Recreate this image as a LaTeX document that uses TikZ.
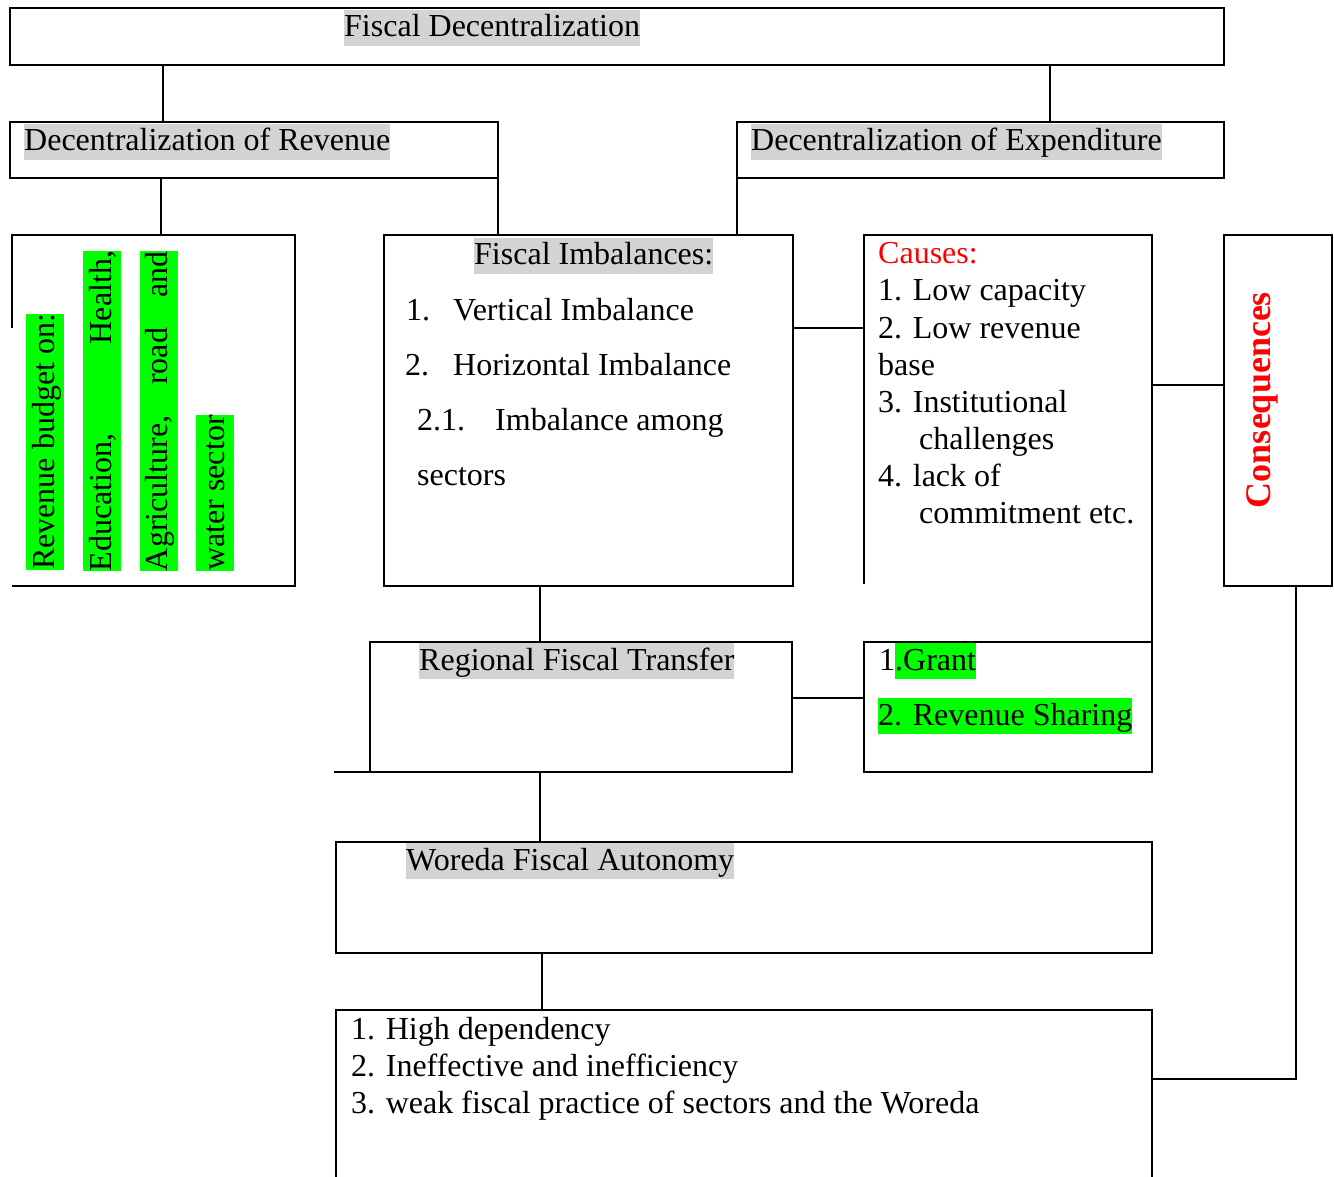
\documentclass[tikz,border=0pt]{standalone}
\usepackage{fontspec}
\setmainfont{Liberation Serif}
\definecolor{hlgray}{RGB}{211,211,211}
\definecolor{hlgreen}{RGB}{0,255,0}
\definecolor{redtxt}{RGB}{255,0,0}
\tikzset{
  box/.style={draw, line width=2.4pt, rectangle, inner sep=0pt, outer sep=0pt, anchor=north west},
  frame/.style={rectangle, inner sep=0pt, outer sep=0pt, anchor=north west},
  boxline/.style={line width=2.4pt},
  conn/.style={line width=2pt},
  plain/.style={inner sep=0pt, anchor=base west},
  hl/.style={inner sep=0pt, anchor=base west, text height=27pt, text depth=9pt},
  colnode/.style={rotate=90, fill=hlgreen, inner sep=0pt, text height=28pt, text depth=10pt, align=left},
  colfree/.style={rotate=90, fill=hlgreen, inner xsep=0pt, inner ysep=0pt, text height=28pt, text depth=10pt, anchor=west},
}
\begin{document}
\begin{tikzpicture}[x=1pt, y=-1pt, font=\fontsize{32pt}{37pt}\selectfont]
\useasboundingbox (0,0) rectangle (1334,1177);

% boxes
\node[box, minimum width=1214pt, minimum height=57pt] (fd) at (10,8) {};
\node[box, minimum width=488pt, minimum height=56pt] (rev) at (10,122) {};
\node[box, minimum width=487pt, minimum height=56pt] (exp) at (737,122) {};
\node[frame, minimum width=283pt, minimum height=351pt] (rb) at (12,235) {};
\node[box, minimum width=409pt, minimum height=351pt] (fi) at (384,235) {};
\node[frame, minimum width=288pt, minimum height=407pt] (cau) at (864,235) {};
\node[box, minimum width=108pt, minimum height=351pt] (con) at (1224,235) {};
\node[box, minimum width=422pt, minimum height=130pt] (rft) at (370,642) {};
\node[box, minimum width=288pt, minimum height=130pt] (grant) at (864,642) {};
\node[box, minimum width=816pt, minimum height=111pt] (wfa) at (336,842) {};
\node[frame, minimum width=816pt, minimum height=175pt] (cq) at (336,1010) {};

% partial borders
\draw[boxline] (rb.north west) ++(0,93) -- (rb.north west) -- (rb.north east) -- (rb.south east) -- (rb.south west);
\draw[boxline] (cau.north west) ++(0,349) -- (cau.north west) -- (cau.north east) -- (cau.south east);
\draw[boxline] (cq.south west) -- (cq.north west) -- (cq.north east) -- (cq.south east);
\coordinate (rftx) at (334,772);
\draw[boxline] (rft.south west) -- (rftx);

% connectors
\draw[conn] (fd.south -| 163,0) -- (rev.north -| 163,0);
\draw[conn] (fd.south -| 1050,0) -- (exp.north -| 1050,0);
\draw[conn] (rev.south -| 161,0) -- (rb.north -| 161,0);
\draw[conn] (rev.south east) -- (fi.north -| rev.east);
\draw[conn] (exp.south west) -- (fi.north -| exp.west);
\draw[conn] (fi.east |- 0,328) -- (cau.west |- 0,328);
\draw[conn] (cau.east |- 0,385) -- (con.west |- 0,385);
\draw[conn] (fi.south -| 540,0) -- (rft.north -| 540,0);
\draw[conn] (rft.east |- 0,698) -- (grant.west |- 0,698);
\draw[conn] (rft.south -| 540,0) -- (wfa.north -| 540,0);
\draw[conn] (wfa.south -| 542,0) -- (cq.north -| 542,0);
\coordinate (bend) at (1296,1079);
\draw[conn] (con.south -| bend) -- (bend) -- (cq.east |- bend);

% texts
\node[hl, fill=hlgray] (tfd) at (344,37) {Fiscal Decentralization};
\node[hl, fill=hlgray] (trev) at (24,151) {Decentralization of Revenue};
\node[hl, fill=hlgray] (texp) at (751,151) {Decentralization of Expenditure};

\node[colfree] (c1) at (45,570) {Revenue budget on:};
\node[colnode, text width=320pt] (c2) at (102,411) {Education,\hfill Health,};
\node[colnode, text width=320pt] (c3) at (158.5,411) {Agriculture,\hfill road\hfill and};
\node[colfree] (c4) at (215,571) {water sector};

\node[hl, fill=hlgray] (tfi) at (474,265) {Fiscal Imbalances:};
\node[plain] (fi1n) at (406,320) {1.};
\node[plain] (fi1) at (453,320) {Vertical Imbalance};
\node[plain] (fi2n) at (405,375) {2.};
\node[plain] (fi2) at (453,375) {Horizontal Imbalance};
\node[plain] (fi3n) at (417,430) {2.1.};
\node[plain] (fi3) at (495,430) {Imbalance among};
\node[plain] (fi4) at (417,485) {sectors};

\node[plain, text=redtxt] (tcau) at (878,264) {Causes:};
\node[plain] (ca1) at (878,301) {1. Low capacity};
\node[plain] (ca2) at (878,338) {2. Low revenue};
\node[plain] (ca3) at (878,375) {base};
\node[plain] (ca4) at (878,412) {3. Institutional};
\node[plain] (ca5) at (919,449) {challenges};
\node[plain] (ca6) at (878,486) {4. lack of};
\node[plain] (ca7) at (919,523) {commitment etc.};

\node[rotate=90, inner sep=0pt, text=redtxt, font=\fontsize{36pt}{40pt}\selectfont\bfseries] (tcon) at (1262,400) {Consequences};

\node[hl, fill=hlgray] (trft) at (419,670) {Regional Fiscal Transfer};
\node[plain] (g1n) at (879,670) {1};
\node[hl, fill=hlgreen] (g1) at (895,670) {.Grant};
\node[hl, fill=hlgreen] (g2) at (878,725) {2. Revenue Sharing};

\node[hl, fill=hlgray] (twfa) at (406,870) {Woreda Fiscal Autonomy};

\node[plain] (q1) at (351,1039) {1. High dependency};
\node[plain] (q2) at (351,1076) {2. Ineffective and inefficiency};
\node[plain] (q3) at (351,1113) {3. weak fiscal practice of sectors and the Woreda};
\end{tikzpicture}
\end{document}
